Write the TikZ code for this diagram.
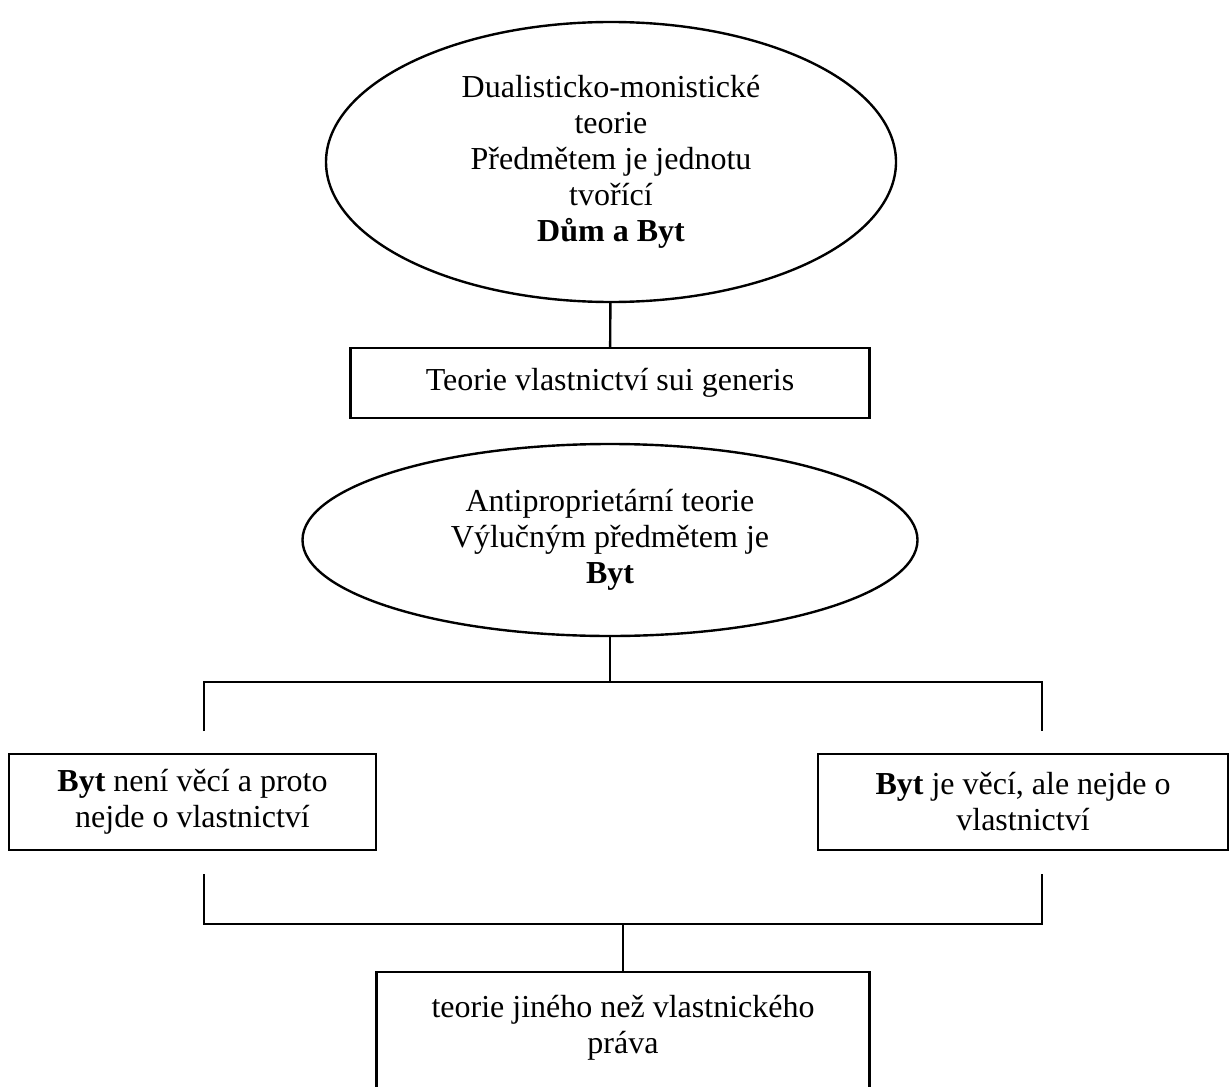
\documentclass[tikz,border=0pt]{standalone}
\usepackage{fontspec}
\setmainfont{Liberation Serif}
\usetikzlibrary{shapes.geometric}

\begin{document}
\begin{tikzpicture}[x=1pt,y=1pt,line width=2.4pt,
    font=\fontsize{32}{36}\selectfont,
    teorie/.style={ellipse,draw,inner sep=0pt,align=center},
    boite/.style={rectangle,draw,inner sep=0pt,align=center}]
  \useasboundingbox (0,0) rectangle (1230,-1086);
  \clip (0,0) rectangle (1230,-1086);
  % les théories
  \node[teorie,minimum width=570pt,minimum height=280pt] (dualis) at (611,-162)
    {Dualisticko-monistické\\teorie\\Předmětem je jednotu\\tvořící\\\textbf{Dům a Byt}};
  \node[boite,minimum width=519pt,minimum height=70pt] (sui) at (610,-383)
    {Teorie vlastnictví sui generis};
  \node[teorie,minimum width=615pt,minimum height=192pt] (anti) at (610,-540)
    {Antiproprietární teorie\\Výlučným předmětem je\\\textbf{Byt}};
  % les deux branches
  \node[boite,minimum width=367pt,minimum height=96pt] (nevec) at (192.5,-802)
    {\textbf{Byt} není věcí a proto\\nejde o vlastnictví};
  \node[boite,minimum width=410pt,minimum height=96pt] (vec) at (1023,-802)
    {\textbf{Byt} je věcí, ale nejde o\\vlastnictví};
  \node[boite,anchor=north,minimum width=493pt,minimum height=140pt] (jine) at (623,-971)
    {teorie jiného než vlastnického\\práva\\\mbox{}};
  % les liaisons
  \coordinate (m1) at (610,-682);
  \coordinate (l1) at (204,-731);
  \coordinate (r1) at (1042,-731);
  \coordinate (m2) at (623,-924);
  \coordinate (l2) at (204,-874);
  \coordinate (r2) at (1042,-874);
  \draw (dualis) -- (sui);
  \draw (anti) -- (m1);
  \draw (l1) |- (m1) -| (r1);
  \draw (l2) |- (m2) -| (r2);
  \draw (m2) -- (jine);
\end{tikzpicture}
\end{document}
